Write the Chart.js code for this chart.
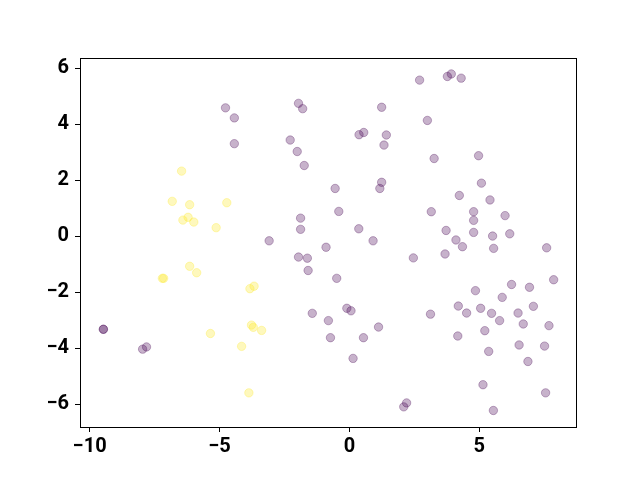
<!DOCTYPE html>
<html>
<head>
<meta charset="utf-8">
<script src="https://cdn.jsdelivr.net/npm/chart.js@4/dist/chart.umd.min.js"></script>
<style>
html,body{margin:0;padding:0;background:#fff;}
#wrap{width:640px;height:480px;position:relative;}
</style>
</head>
<body>
<div id="wrap"><canvas id="c" width="640" height="480"></canvas></div>
<script>
const purpleX = [-4.77,-4.43,-4.43,-1.96,-1.80,1.24,-2.28,-2.01,-1.74,0.37,0.55,1.42,1.33,-0.55,1.24,1.17,-0.41,-1.88,-1.88,0.36,-3.09,0.91,-0.90,
  2.70,3.77,3.92,4.30,3.00,3.26,4.97,5.08,4.23,5.41,3.15,4.78,4.78,5.99,3.72,4.78,5.51,6.17,4.10,4.35,5.55,7.59,2.46,3.68,
  7.86,6.24,6.93,4.85,5.88,4.19,4.51,5.05,5.47,5.78,6.49,7.08,3.12,6.69,7.68,5.21,4.17,6.53,7.51,5.36,6.87,5.14,7.55,5.54,2.20,2.09,
  -1.96,-1.62,-1.59,-0.49,-1.43,-0.81,-0.10,0.06,1.12,-0.73,0.54,0.14,
  -9.47,-9.47,-7.96,-7.81];
const purpleY = [4.58,4.22,3.30,4.74,4.55,4.60,3.43,3.02,2.52,3.62,3.70,3.61,3.25,1.70,1.92,1.70,0.88,0.64,0.24,0.26,-0.17,-0.17,-0.40,
  5.57,5.70,5.79,5.64,4.13,2.77,2.87,1.89,1.45,1.29,0.87,0.87,0.56,0.73,0.20,0.13,0.00,0.08,-0.14,-0.38,-0.44,-0.42,-0.78,-0.64,
  -1.56,-1.73,-1.83,-1.95,-2.19,-2.50,-2.75,-2.58,-2.76,-3.02,-2.75,-2.51,-2.79,-3.14,-3.20,-3.38,-3.57,-3.89,-3.93,-4.12,-4.48,-5.31,-5.60,-6.23,-5.96,-6.10,
  -0.75,-0.79,-1.23,-1.51,-2.76,-3.02,-2.58,-2.67,-3.25,-3.63,-3.63,-4.37,
  -3.33,-3.33,-4.04,-3.96];
const yellowX = [-6.46,-6.82,-6.15,-4.72,-6.21,-6.41,-5.99,-5.13,-7.20,-7.15,-6.15,-5.88,-5.35,-4.15,-3.83,-3.67,-3.77,-3.70,-3.38,-3.87];
const yellowY = [2.32,1.24,1.12,1.19,0.67,0.57,0.50,0.30,-1.51,-1.51,-1.08,-1.31,-3.48,-3.94,-1.88,-1.79,-3.18,-3.26,-3.37,-5.60];
const xTicks = [-10,-5,0,5];
const yTicks = [-6,-4,-2,0,2,4,6];
const xLimits = [-10.37, 8.72];
const yLimits = [-6.82, 6.36];

const toPts = (xs, ys) => xs.map((x, i) => ({x: x, y: ys[i]}));
const fmt = v => (v < 0 ? '\u2212' + Math.abs(v) : String(v));

const framePlugin = {
  id: 'frame',
  afterDraw(chart) {
    const a = chart.chartArea, ctx = chart.ctx;
    ctx.save();
    ctx.strokeStyle = '#000';
    ctx.lineWidth = 1;
    ctx.strokeRect(Math.round(a.left) + 0.5, Math.round(a.top) + 0.5, Math.round(a.right - a.left), Math.round(a.bottom - a.top));
    ctx.restore();
  }
};

const tickFont = {family: 'Roboto', weight: 'bold', size: 20, lineHeight: 1.2};

new Chart(document.getElementById('c'), {
  type: 'scatter',
  data: {
    datasets: [
      {data: toPts(purpleX, purpleY), backgroundColor: 'rgba(68,1,84,0.3)', borderColor: 'rgba(68,1,84,0.3)', borderWidth: 1, pointRadius: 4.2, pointHoverRadius: 4.2},
      {data: toPts(yellowX, yellowY), backgroundColor: 'rgba(253,231,37,0.3)', borderColor: 'rgba(253,231,37,0.3)', borderWidth: 1, pointRadius: 4.2, pointHoverRadius: 4.2}
    ]
  },
  options: {
    responsive: false,
    animation: false,
    events: [],
    layout: {padding: {left: 0, top: 58, right: 64, bottom: 0}},
    plugins: {legend: {display: false}, tooltip: {enabled: false}},
    scales: {
      x: {
        type: 'linear', min: xLimits[0], max: xLimits[1],
        afterBuildTicks: ax => { ax.ticks = xTicks.map(v => ({value: v})); },
        afterFit: ax => { ax.height = 53; },
        grid: {drawOnChartArea: false, drawTicks: true, tickLength: 5, color: '#000', lineWidth: 1},
        border: {display: true, color: '#000', width: 1},
        ticks: {color: '#000', font: tickFont, padding: 3, maxRotation: 0, callback: v => fmt(v)}
      },
      y: {
        type: 'linear', min: yLimits[0], max: yLimits[1],
        afterBuildTicks: ax => { ax.ticks = yTicks.map(v => ({value: v})); },
        afterFit: ax => { ax.width = 80; },
        grid: {drawOnChartArea: false, drawTicks: true, tickLength: 5, color: '#000', lineWidth: 1},
        border: {display: true, color: '#000', width: 1},
        ticks: {color: '#000', font: tickFont, padding: 6, callback: v => fmt(v)}
      }
    }
  },
  plugins: [framePlugin]
});
</script>
</body>
</html>
